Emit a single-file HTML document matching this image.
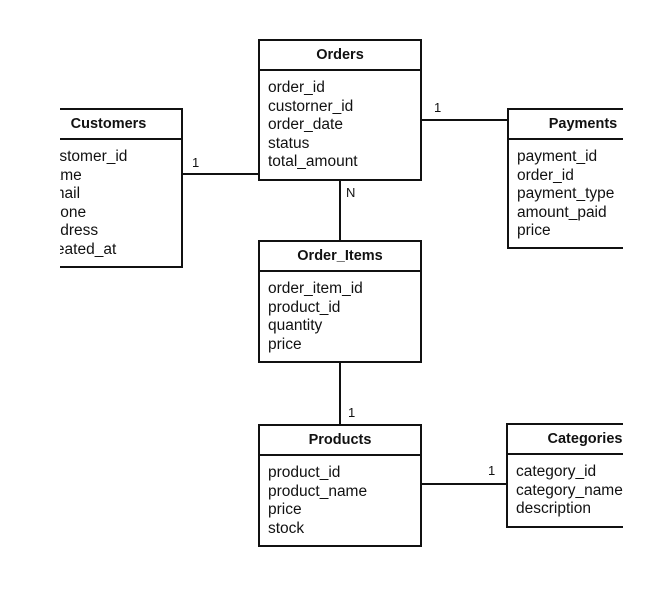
<!DOCTYPE html>
<html><head><style>
body{margin:0;background:#fff;width:663px;height:605px;overflow:hidden;position:relative;font-family:"Liberation Sans",Arial,sans-serif;color:#111}
#clip{position:absolute;left:60px;top:0;width:563px;height:605px;overflow:hidden}
.box{position:absolute;border:2px solid #111;box-sizing:border-box;background:#fff}
.hd{height:28px;border-bottom:2px solid #111;font-weight:bold;font-size:14.5px;line-height:28px;text-align:center}
.fl{padding:8px 0 0 8px;font-size:15.5px;line-height:18.5px;white-space:nowrap}
.ln{position:absolute;background:#111}
.lb{position:absolute;font-size:13px}
</style></head><body>
<div id="clip">
<div class="ln" style="left:122px;top:173px;width:76px;height:2px"></div>
<div class="ln" style="left:361px;top:119px;width:86px;height:2px"></div>
<div class="ln" style="left:279px;top:180px;width:2px;height:60px"></div>
<div class="ln" style="left:279px;top:362px;width:2px;height:62px"></div>
<div class="ln" style="left:361px;top:483px;width:86px;height:2px"></div>

<div class="box" style="left:-26px;top:108px;width:149px;height:160px"><div class="hd">Customers</div><div class="fl" style="padding-left:7px">customer_id<br>name<br>email<br>phone<br>address<br>created_at</div></div>
<div class="box" style="left:198px;top:39px;width:164px;height:142px"><div class="hd">Orders</div><div class="fl">order_id<br>custorner_id<br>order_date<br>status<br>total_amount</div></div>
<div class="box" style="left:447px;top:108px;width:152px;height:141px"><div class="hd">Payments</div><div class="fl">payment_id<br>order_id<br>payment_type<br>amount_paid<br>price</div></div>
<div class="box" style="left:198px;top:240px;width:164px;height:123px"><div class="hd">Order_Items</div><div class="fl">order_item_id<br>product_id<br>quantity<br>price</div></div>
<div class="box" style="left:198px;top:424px;width:164px;height:123px"><div class="hd">Products</div><div class="fl">product_id<br>product_name<br>price<br>stock</div></div>
<div class="box" style="left:446px;top:423px;width:158px;height:105px"><div class="hd">Categories</div><div class="fl">category_id<br>category_name<br>description</div></div>
</div>
<div class="lb" style="left:192px;top:155px">1</div>
<div class="lb" style="left:434px;top:100px">1</div>
<div class="lb" style="left:346px;top:185px">N</div>
<div class="lb" style="left:348px;top:405px">1</div>
<div class="lb" style="left:488px;top:463px">1</div>
</body></html>
